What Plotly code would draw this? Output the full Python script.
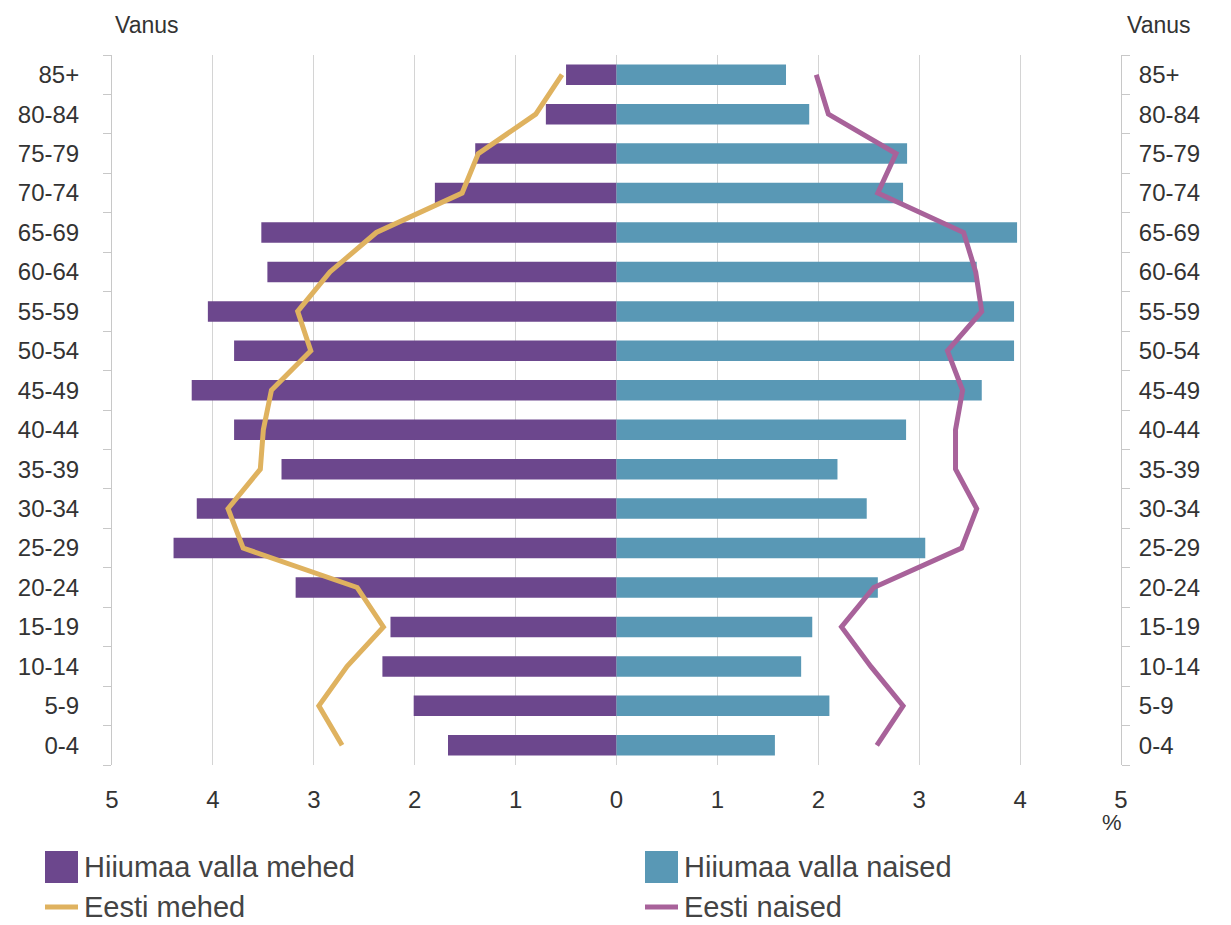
import plotly.graph_objects as go

ages = ["0-4", "5-9", "10-14", "15-19", "20-24", "25-29", "30-34", "35-39", "40-44",
        "45-49", "50-54", "55-59", "60-64", "65-69", "70-74", "75-79", "80-84", "85+"]

hiiumaa_mehed = [1.67, 2.01, 2.32, 2.24, 3.18, 4.39, 4.16, 3.32, 3.79,
                 4.21, 3.79, 4.05, 3.46, 3.52, 1.80, 1.40, 0.70, 0.50]
hiiumaa_naised = [1.57, 2.11, 1.83, 1.94, 2.59, 3.06, 2.48, 2.19, 2.87,
                  3.62, 3.94, 3.94, 3.57, 3.97, 2.84, 2.88, 1.91, 1.68]
eesti_mehed = [2.72, 2.95, 2.67, 2.31, 2.57, 3.70, 3.85, 3.53, 3.50,
               3.42, 3.03, 3.16, 2.84, 2.38, 1.53, 1.37, 0.80, 0.54]
eesti_naised = [2.58, 2.84, 2.52, 2.23, 2.55, 3.42, 3.57, 3.36, 3.36,
                3.43, 3.28, 3.62, 3.56, 3.44, 2.59, 2.77, 2.10, 1.98]

x_ticks = [-5, -4, -3, -2, -1, 0, 1, 2, 3, 4, 5]
x_ticktext = ["5", "4", "3", "2", "1", "0", "1", "2", "3", "4", "5"]

series_names = ["Hiiumaa valla mehed", "Hiiumaa valla naised", "Eesti mehed", "Eesti naised"]

C_MEN = "#6c478d"
C_WOMEN = "#5998b5"
C_EE_MEN = "#dfb25f"
C_EE_WOMEN = "#a8629a"
GRID = "#d4d4d4"
AXIS = "#c8c8c8"
TXT = "#333333"
FONT = "Arial, Liberation Sans, sans-serif"

# the figure sits 8px in from the page corner (default body margin);
# size it so that it fits exactly inside the 1231x925 window
OFF = 8
W, H = 1231 - OFF, 925 - OFF
L, R, T, B = 112, 1121, 55, 765  # desired plot area in page pixels


def xp(px):
    return (px - L) / (R - L)


def yp(py):
    return (B - py) / (B - T)


fig = go.Figure()
fig.add_trace(go.Bar(y=ages, x=[-v for v in hiiumaa_mehed], orientation="h",
                     name=series_names[0], marker=dict(color=C_MEN, line=dict(width=0))))
fig.add_trace(go.Bar(y=ages, x=hiiumaa_naised, orientation="h",
                     name=series_names[1], marker=dict(color=C_WOMEN, line=dict(width=0))))
fig.add_trace(go.Scatter(y=ages, x=[-v for v in eesti_mehed], mode="lines",
                         name=series_names[2], line=dict(color=C_EE_MEN, width=5)))
fig.add_trace(go.Scatter(y=ages, x=eesti_naised, mode="lines", yaxis="y2",
                         name=series_names[3], line=dict(color=C_EE_WOMEN, width=5)))

yax = dict(type="category", categoryorder="array", categoryarray=ages,
           range=[-0.5, 17.5], tickson="boundaries", ticks="outside", ticklen=8,
           tickcolor=AXIS, showline=True, linecolor=AXIS, linewidth=1,
           showgrid=False, zeroline=False, ticklabelstandoff=27,
           tickfont=dict(size=24, color=TXT, family=FONT), fixedrange=True)

# custom legend (large square swatches as in the reference)
legend_items = [
    (series_names[0], "rect", C_MEN, 45, 867),
    (series_names[1], "rect", C_WOMEN, 645, 867),
    (series_names[2], "line", C_EE_MEN, 45, 907),
    (series_names[3], "line", C_EE_WOMEN, 645, 907),
]
shapes = []
annotations = []
for name, kind, color, sx, sy in legend_items:
    if kind == "rect":
        shapes.append(dict(type="rect", xref="paper", yref="paper",
                           x0=xp(sx), x1=xp(sx + 33), y0=yp(sy + 16), y1=yp(sy - 16),
                           fillcolor=color, line=dict(width=0)))
    else:
        shapes.append(dict(type="line", xref="paper", yref="paper",
                           x0=xp(sx), x1=xp(sx + 33), y0=yp(sy), y1=yp(sy),
                           line=dict(color=color, width=5)))
    annotations.append(dict(text=name, xref="paper", yref="paper", x=xp(sx + 37), y=yp(sy),
                            xanchor="left", yanchor="middle", showarrow=False,
                            font=dict(size=29, color="#444444", family=FONT)))

annotations += [
    dict(text="Vanus", xref="paper", yref="paper", x=xp(113), y=yp(25),
         xanchor="left", yanchor="middle", showarrow=False,
         font=dict(size=23, color=TXT, family=FONT)),
    dict(text="Vanus", xref="paper", yref="paper", x=xp(1125), y=yp(25),
         xanchor="left", yanchor="middle", showarrow=False,
         font=dict(size=23, color=TXT, family=FONT)),
    dict(text="%", xref="paper", yref="paper", x=xp(1112), y=yp(822),
         xanchor="center", yanchor="middle", showarrow=False,
         font=dict(size=22, color=TXT, family=FONT)),
]

fig.update_layout(
    width=W, height=H,
    margin=dict(l=L - OFF, r=W - (R - OFF), t=T - OFF, b=H - (B - OFF), autoexpand=False),
    paper_bgcolor="white", plot_bgcolor="white",
    barmode="relative", bargap=0.48,
    showlegend=False,
    font=dict(family=FONT, color=TXT),
    xaxis=dict(range=[-5, 5], tickvals=x_ticks, ticktext=x_ticktext,
               showgrid=True, gridcolor=GRID, gridwidth=1, zeroline=True,
               zerolinecolor=GRID, zerolinewidth=1, showline=False, ticks="",
               ticklabelstandoff=18, tickfont=dict(size=24, color=TXT, family=FONT),
               fixedrange=True),
    yaxis=yax,
    yaxis2=dict(yax, overlaying="y", side="right", anchor="x", ticklabelstandoff=12),
    shapes=shapes,
    annotations=annotations,
)

fig.write_html("out.html")
